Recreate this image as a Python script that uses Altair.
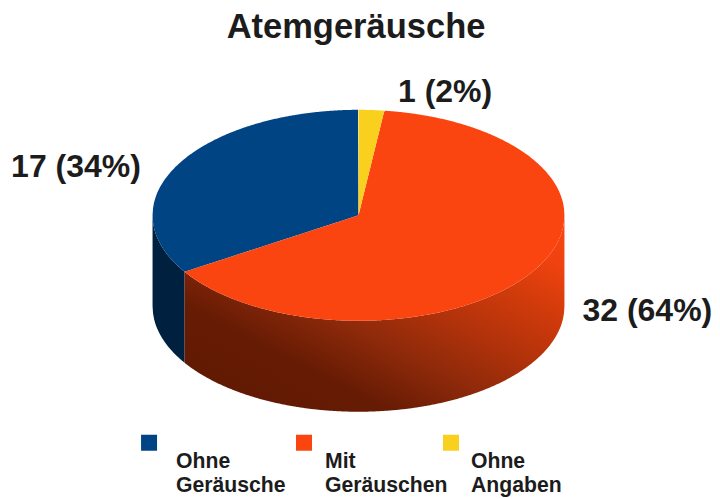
import altair as alt
import numpy as np
import pandas as pd

# --- chart values ---
title = "Atemgeräusche"
categories = ["Ohne Angaben", "Mit Geräuschen", "Ohne Geräusche"]   # clockwise from 12 o'clock
counts = [1, 32, 17]
colors = ["#fad01e", "#fb4510", "#004484"]
slice_labels = ["1 (2%)", "32 (64%)", "17 (34%)"]
legend_order = ["Ohne Geräusche", "Mit Geräuschen", "Ohne Angaben"]
legend_lines = [["Ohne", "Geräusche"], ["Mit", "Geräuschen"], ["Ohne", "Angaben"]]

# --- layout (page pixels) ---
CX, CY, RX, RY, DEPTH = 358.5, 215.5, 206.0, 105.5, 91.0
W, H = 712, 491
K = 720 / 728          # page is fitted to the window
DY = 3
TEXT = "#1c1c1c"
FONT = "Liberation Sans"
label_pos = [(398, 102), (582.5, 321), (11, 177)]
legend_sq = [141, 296, 443]
legend_tx = [176, 325, 471]

xs = alt.Scale(domain=[8 * K, 720 * K], range=[0, W])
ys = alt.Scale(domain=[8 * K + DY, 499 * K + DY], range=[0, H])
X = lambda f: alt.X(f, type="quantitative", scale=xs, axis=None)
Y = lambda f: alt.Y(f, type="quantitative", scale=ys, axis=None)

fracs = np.array(counts) / sum(counts)
edges = np.concatenate([[0], np.cumsum(fracs)]) * 2 * np.pi


def rim(a):
    return CX + RX * np.sin(a), CY - RY * np.cos(a)


def sector_envelope(a0, a1):
    """upper/lower boundary of a pie sector on the top ellipse, per x"""
    aa = np.linspace(a0, a1, 400)
    px, py = rim(aa)
    px = np.concatenate([[CX], px, [CX]])
    py = np.concatenate([[CY], py, [CY]])
    grid = np.unique(np.concatenate([np.arange(np.ceil(px.min()), px.max(), 1.0), [px.min(), px.max()]]))
    rows = []
    for x in grid:
        ysec = []
        for i in range(len(px) - 1):
            x0, x1 = px[i], px[i + 1]
            if min(x0, x1) <= x <= max(x0, x1):
                if x0 == x1:
                    ysec += [py[i], py[i + 1]]
                else:
                    ysec.append(py[i] + (x - x0) / (x1 - x0) * (py[i + 1] - py[i]))
        if ysec:
            rows.append({"x": x, "y": min(ysec), "y2": max(ysec)})
    return pd.DataFrame(rows)


def wall(x0, x1):
    grid = np.unique(np.concatenate([np.arange(np.ceil(x0), x1, 1.0), [x0, x1]]))
    lower = CY + RY * np.sqrt(np.clip(1 - ((grid - CX) / RX) ** 2, 0, 1))
    return pd.DataFrame({"x": grid, "y": lower, "y2": lower + DEPTH})


def area(df, fill):
    return alt.Chart(df).mark_area(color=fill, interpolate="linear", line=False).encode(
        x=X("x"), y=Y("y"), y2=alt.Y2("y2"))


red_end_x = rim(edges[2])[0]
red_wall_fill = alt.LinearGradient(
    gradient="linear", x1=0, y1=1, x2=1, y2=0,
    stops=[
        alt.GradientStop(color="#5f1903", offset=0),
        alt.GradientStop(color="#661b04", offset=0.27),
        alt.GradientStop(color="#8f2a0a", offset=0.44),
        alt.GradientStop(color="#b5330b", offset=0.60),
        alt.GradientStop(color="#d23b0b", offset=0.74),
        alt.GradientStop(color="#ee420f", offset=0.86),
        alt.GradientStop(color="#fb4510", offset=1),
    ],
)

layers = [
    area(wall(CX - RX, red_end_x), "#00203f"),
    area(wall(red_end_x, CX + RX), red_wall_fill),
]
for i in [2, 1, 0]:
    layers.append(area(sector_envelope(edges[i], edges[i + 1]), colors[i]))

# title
layers.append(
    alt.Chart(pd.DataFrame({"x": [356], "y": [38], "t": [title]}))
    .mark_text(font=FONT, fontWeight="bold", fontSize=34.5 / K, color=TEXT, align="center", baseline="alphabetic")
    .encode(x=X("x"), y=Y("y"), text="t:N")
)

# slice labels
layers.append(
    alt.Chart(pd.DataFrame({"x": [p[0] for p in label_pos], "y": [p[1] for p in label_pos], "t": slice_labels}))
    .mark_text(font=FONT, fontWeight="bold", fontSize=32 / K, color=TEXT, align="left", baseline="alphabetic")
    .encode(x=X("x"), y=Y("y"), text="t:N")
)

# legend
sq = pd.DataFrame({
    "x": legend_sq, "x2": [v + 16 for v in legend_sq], "y": [435] * 3, "y2": [451] * 3,
    "c": legend_order,
})
layers.append(
    alt.Chart(sq).mark_rect().encode(
        x=X("x"), x2=alt.X2("x2"), y=Y("y"), y2=alt.Y2("y2"),
        color=alt.Color("c:N", legend=None,
                        scale=alt.Scale(domain=categories, range=colors)),
    )
)
rows = []
for tx, lines in zip(legend_tx, legend_lines):
    rows.append({"x": tx, "y": 468, "t": lines[0]})
    rows.append({"x": tx, "y": 492, "t": lines[1]})
layers.append(
    alt.Chart(pd.DataFrame(rows))
    .mark_text(font=FONT, fontWeight="bold", fontSize=21.2 / K, color=TEXT, align="left", baseline="alphabetic")
    .encode(x=X("x"), y=Y("y"), text="t:N")
)

chart = (
    alt.layer(*layers)
    .properties(width=W, height=H, padding=0, autosize=alt.AutoSizeParams(type="none"))
    .configure_view(stroke=None)
    .resolve_scale(color="independent")
)
chart.save("out.html", embed_options={"renderer": "svg", "actions": False})
